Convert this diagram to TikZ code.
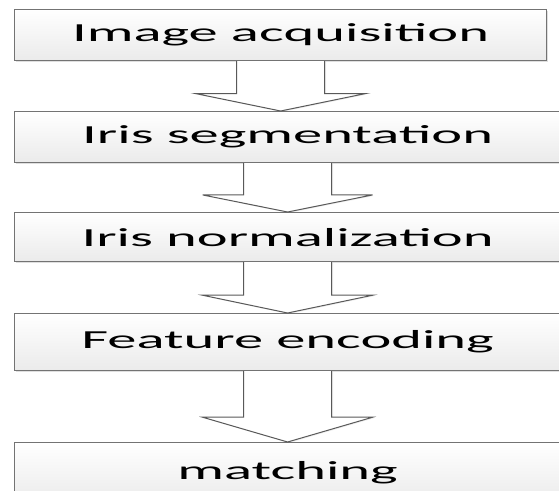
\documentclass[tikz,border=0pt]{standalone}
\usepackage{fontspec}
\usetikzlibrary{calc,shadows}
\newfontfamily\boxfont{Carlito}[FakeStretch=2.25]

\begin{document}
\begin{tikzpicture}[x=1pt,y=-1pt,
  stage/.style={draw=black!55,line width=1.2pt,anchor=north west,inner sep=0pt,
    top color=white,bottom color=black!8,
    drop shadow={shadow xshift=1.5pt,shadow yshift=-1.5pt,opacity=0.25},
    font=\boxfont\fontsize{26}{30}\selectfont},
  blockarrow/.style={draw=black!65,line width=1pt,fill=white,line join=miter,
    drop shadow={shadow xshift=1.5pt,shadow yshift=-1pt,opacity=0.12}}]
\useasboundingbox (0,0) rectangle (559,490);
\node[stage,minimum width=532pt,minimum height=51pt] (acq) at (14,9) {Image acquisition};
\node[stage,minimum width=546pt,minimum height=51pt] (seg) at (14,111) {Iris segmentation};
\node[stage,minimum width=546pt,minimum height=49pt] (norm) at (14,212) {Iris normalization};
\node[stage,minimum width=546pt,minimum height=57pt] (enc) at (14,313) {Feature encoding};
\node[stage,minimum width=546pt,minimum height=60pt] (match) at (14,442) {matching};
\foreach \a/\b in {acq/seg,seg/norm,norm/enc,enc/match}
	{
	\coordinate (t) at (\a.south |- \b.north);
	\coordinate (h) at ($(\a.south)!0.65!(t)$);
	\draw[blockarrow] ($(\a.south)+(-44,0)$) -- ($(h)+(-44,0)$) -- ($(h)+(-85,0)$)
		-- (t) -- ($(h)+(85,0)$) -- ($(h)+(44,0)$) -- ($(\a.south)+(44,0)$);
	}
\end{tikzpicture}
\end{document}
